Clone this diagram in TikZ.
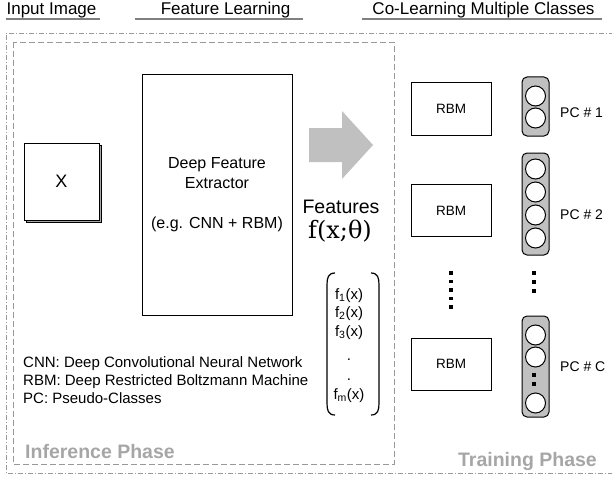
\documentclass[tikz,border=0pt]{standalone}
\usepackage{fontspec}
\setmainfont{Liberation Sans}
\newfontfamily\thetafont{DejaVu Serif}
\usetikzlibrary{shadows}
\definecolor{framegray}{HTML}{999999}
\definecolor{phasegray}{HTML}{A6A6A6}
\definecolor{blockgray}{HTML}{C0C0C0}
\definecolor{rulegray}{HTML}{808080}

\begin{document}
\begin{tikzpicture}[x=1pt,y=-1pt,
  fs/.style={font=\fontsize{#1}{#1}\selectfont},
  title/.style={fs=17, inner sep=0, anchor=base},
  phase/.style={font=\bfseries\fontsize{19.5}{20}\selectfont, text=phasegray, inner sep=0},
  rbm/.style={draw, line width=1pt, minimum width=80, minimum height=52, fs=13.5},
  pcbar/.style={draw, line width=1pt, fill=blockgray, rounded corners=5, minimum width=27},
  unit/.style={circle, draw, line width=1pt, fill=white, minimum size=20, inner sep=0},
  sq/.style={fill, minimum size=3.5, inner sep=0},
  entry/.style={fs=15, inner sep=0, anchor=base},
  pclabel/.style={fs=14, inner sep=0, anchor=west}]
\useasboundingbox (0,0) rectangle (612,476);
\draw[framegray, line width=0.8pt, dash pattern=on 5pt off 2pt on 1pt off 2pt]
  (614,33) -- (6,33) -- (6,473) -- (614,473);
\draw[framegray, line width=0.8pt, dash pattern=on 6pt off 3pt] (13,42) rectangle (394,464);
\node[title] (tin) at (51.5,15) {Input Image};
\node[title] (tfl) at (225.5,15) {Feature Learning};
\node[title] (tcl) at (483.5,15) {Co-Learning Multiple Classes};
\draw[rulegray, line width=1.2pt] (6,19) -- (100,19) (135,19) -- (303,19) (362,19) -- (602,19);
\node[draw, line width=1pt, fill=white, minimum width=75, minimum height=77, fs=18,
  copy shadow={shadow xshift=2pt, shadow yshift=-2pt, fill=gray!70, draw=black}]
  (img) at (61.5,181.5) {X};
\node[draw, line width=1pt, minimum width=150, minimum height=240, align=center,
  font=\fontsize{16}{20}\selectfont] (dfe) at (217,195)
  {Deep Feature\\Extractor\\[20pt](e.g. CNN + RBM)};
\fill[blockgray] (309,128) -- (342,128) -- (342,111) -- (373,145) -- (342,179) -- (342,162) -- (309,162) -- cycle;
\node[fs=19.5] (feat) at (341,207) {Features};
\node[font=\thetafont\fontsize{24}{24}\selectfont] (fx) at (340,231) {f(x;θ)};
\draw[line width=1.2pt] (335,273) .. controls (328,273) and (327,278) .. (327,285) -- (327,403)
  .. controls (327,410) and (328,415) .. (335,415);
\draw[line width=1.2pt] (371,273) .. controls (378,273) and (379,278) .. (379,285) -- (379,403)
  .. controls (379,410) and (378,415) .. (371,415);
\node[entry] (f1) at (349,299) {f\textsubscript{1}(x)};
\node[entry] (f2) at (349,317) {f\textsubscript{2}(x)};
\node[entry] (f3) at (349,336) {f\textsubscript{3}(x)};
\node[entry] (fd1) at (349,360) {.};
\node[entry] (fd2) at (349,380) {.};
\node[entry] (fm) at (349,399) {f\textsubscript{m}(x)};
\foreach \t [count=\i] in {CNN: Deep Convolutional Neural Network,
  RBM: Deep Restricted Boltzmann Machine, PC: Pseudo-Classes}
  \node[fs=15, inner sep=0, anchor=base west] (leg\i) at (23,349+18*\i) {\t};
\node[phase, anchor=base west] (inf) at (25,458) {Inference Phase};
\node[phase, anchor=base east] (trn) at (597,466) {Training Phase};
\node[rbm] (rbm1) at (451,109) {RBM};
\node[rbm] (rbm2) at (451,210.5) {RBM};
\node[rbm] (rbm3) at (451,364) {RBM};
\foreach \y [count=\i] in {273,281.5,290,298.5,307}
  \node[sq] (rd\i) at (451,\y) {};
\node[pcbar, minimum height=59] (pc1) at (535.5,106.5) {};
\foreach \y [count=\i] in {96,118}
  \node[unit] (pc1u\i) at (535.5,\y) {};
\node[pcbar, minimum height=102] (pc2) at (535.5,204) {};
\foreach \y [count=\i] in {169,192,215,238}
  \node[unit] (pc2u\i) at (535.5,\y) {};
\foreach \y [count=\i] in {273,282,291}
  \node[sq] (pd\i) at (534,\y) {};
\node[pcbar, minimum height=101] (pcc) at (535.5,366.5) {};
\foreach \y [count=\i] in {335,357,403}
  \node[unit] (pccu\i) at (535.5,\y) {};
\node[sq] (pcd1) at (534,375) {};
\node[sq] (pcd2) at (534,384) {};
\node[pclabel] (lab1) at (560,113) {PC \# 1};
\node[pclabel] (lab2) at (560,215) {PC \# 2};
\node[pclabel] (labc) at (560,367) {PC \# C};
\end{tikzpicture}
\end{document}
